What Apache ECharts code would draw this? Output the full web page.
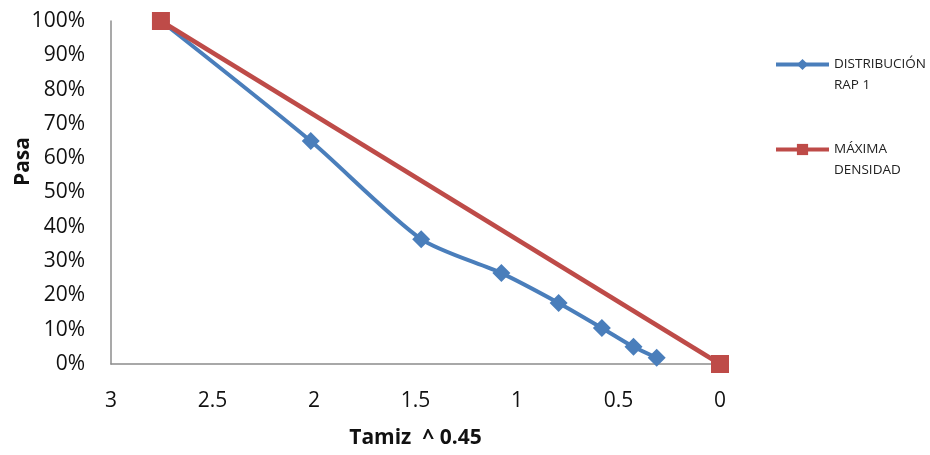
<!DOCTYPE html>
<html>
<head>
<meta charset="utf-8">
<script src="https://cdn.jsdelivr.net/npm/echarts@6/dist/echarts.min.js"></script>
<style>
  html, body { margin: 0; padding: 0; background: #fff; }
  #chart { width: 930px; height: 455px; }
</style>
</head>
<body>
<div id="chart"></div>
<script>
// Sieve size raised to 0.45 and fraction passing
const rapX = [2.754, 2.016, 1.472, 1.077, 0.795, 0.582, 0.426, 0.312];
const rapY = [1.00, 0.65, 0.364, 0.265, 0.178, 0.105, 0.050, 0.018];
const maxDensX = [2.754, 0];
const maxDensY = [1.00, 0];
const seriesNames = ['DISTRIBUCIÓN\nRAP 1', 'MÁXIMA\nDENSIDAD'];

const font = '"Open Sans", "Liberation Sans", sans-serif';
const chart = echarts.init(document.getElementById('chart'));

chart.setOption({
  animation: false,
  backgroundColor: '#ffffff',
  grid: { left: 111, right: 210, top: 21, bottom: 91, containLabel: false, outerBoundsMode: 'none' },
  legend: {
    orient: 'vertical',
    left: 774,
    top: 33,
    padding: 0,
    itemWidth: 53,
    itemHeight: 14,
    itemGap: 22,
    lineStyle: { width: 4 },
    // a blank first line keeps the marker level with the name's first line
    formatter: name => ' \n' + name,
    textStyle: { fontFamily: font, fontSize: 13.5, color: '#222', lineHeight: 21 },
    data: seriesNames
  },
  xAxis: {
    type: 'value',
    inverse: true,
    min: 0, max: 3, interval: 0.5,
    name: 'Tamiz  ^ 0.45',
    nameLocation: 'middle',
    nameGap: 64,
    nameMoveOverlap: false,
    nameTextStyle: { fontFamily: font, fontSize: 21, fontWeight: 'bold', color: '#111' },
    axisLine: { show: true, onZero: false, lineStyle: { color: '#8c8c8c', width: 1.5 } },
    axisTick: { show: false },
    splitLine: { show: false },
    axisLabel: { fontFamily: font, fontSize: 21, color: '#111', margin: 27 }
  },
  yAxis: {
    type: 'value',
    position: 'left',
    min: 0, max: 1, interval: 0.1,
    name: 'Pasa',
    nameLocation: 'middle',
    nameGap: 77,
    nameMoveOverlap: false,
    nameTextStyle: {
      fontFamily: font, fontSize: 21, fontWeight: 'bold', color: '#111',
      padding: [0, 0, 0, 62]
    },
    axisLine: { show: true, onZero: false, lineStyle: { color: '#8c8c8c', width: 1.5 } },
    axisTick: { show: false },
    splitLine: { show: false },
    axisLabel: {
      fontFamily: font, fontSize: 21, color: '#111', margin: 26,
      formatter: v => Math.round(v * 100) + '%'
    }
  },
  series: [
    {
      name: seriesNames[0],
      type: 'line',
      smooth: 0.25,
      data: rapX.map((x, i) => [x, rapY[i]]),
      symbol: 'diamond',
      symbolSize: 18,
      color: '#4a7ebb',
      lineStyle: { color: '#4a7ebb', width: 4 },
      itemStyle: { color: '#4a7ebb' },
      z: 3
    },
    {
      name: seriesNames[1],
      type: 'line',
      data: maxDensX.map((x, i) => [x, maxDensY[i]]),
      symbol: 'rect',
      symbolSize: 18,
      color: '#be4b48',
      lineStyle: { color: '#be4b48', width: 4.5 },
      itemStyle: { color: '#be4b48' },
      z: 4
    }
  ]
});
</script>
</body>
</html>
